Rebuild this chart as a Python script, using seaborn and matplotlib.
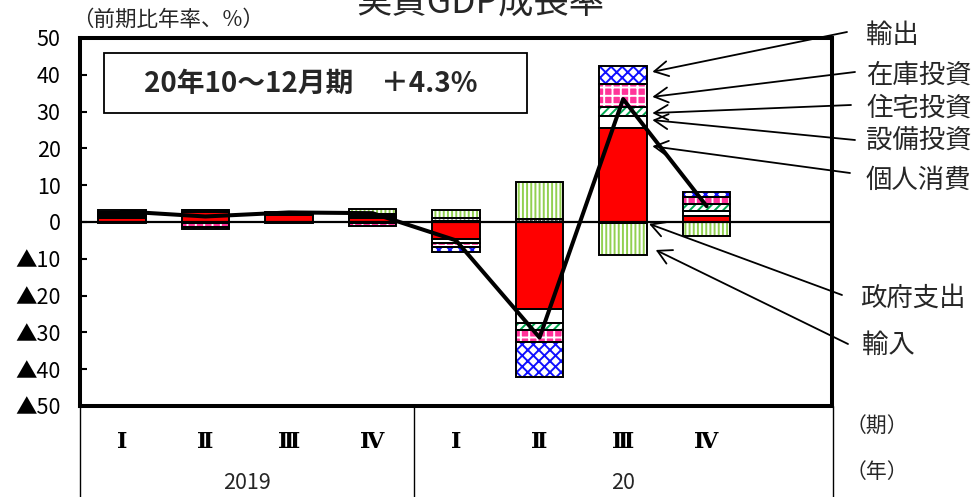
import numpy as np
import pandas as pd
import matplotlib
matplotlib.use("Agg")
import matplotlib.pyplot as plt
import seaborn as sns
from matplotlib.patches import Rectangle
from matplotlib.lines import Line2D

# ---- data: contributions to annualised q/q real GDP growth (% points) ----
years = ["2019", "20"]
quarters = ["Ⅰ", "Ⅱ", "Ⅲ", "Ⅳ", "Ⅰ", "Ⅱ", "Ⅲ", "Ⅳ"]
gdp = [2.9, 1.5, 2.6, 2.4, -5.0, -31.4, 33.4, 4.3]

consumption = [1.1, 2.6, 1.8, 1.2, -4.6, -23.7, 25.6, 1.5]
business_inv = [0.6, -0.1, 0.2, -0.2, -1.0, -3.8, 3.3, 1.6]
housing_inv = [-0.1, -0.1, 0.2, 0.2, 0.2, -1.8, 2.3, 1.8]
inventory_inv = [0.5, -1.1, -0.1, -0.8, -1.2, -3.4, 6.2, 1.8]
exports = [0.5, -0.5, 0.1, 0.2, -1.4, -9.5, 5.1, 1.4]
government = [0.5, 0.6, 0.5, 0.5, 0.8, 0.8, -0.4, -0.1]
imports = [-0.2, 0.1, -0.1, 1.3, 2.2, 10.0, -8.7, -3.7]

component_names = ["個人消費", "設備投資", "住宅投資", "在庫投資", "輸出", "政府支出", "輸入"]
component_values = [consumption, business_inv, housing_inv, inventory_inv,
                    exports, government, imports]
headline = "20年10～12月期　＋4.3%"

# ---- styles: (face colour, hatch colour, hatch) ----
styles = {
    "個人消費": ("#FF0000", "#FF0000", None),
    "設備投資": ("white", "white", None),
    "住宅投資": ("white", "#00A84F", "////"),
    "在庫投資": ("#FF3399", "white", "++"),
    "輸出": ("white", "#1010FF", "xxx"),
    "政府支出": ("white", "#202020", "...."),
    "輸入": ("white", "#92D050", "||||"),
}

sns.set_theme(style="white")
plt.rcParams["font.family"] = ["Noto Sans CJK JP", "DejaVu Sans"]
plt.rcParams["hatch.linewidth"] = 1.4
plt.rcParams["axes.unicode_minus"] = False

W, H = 977, 497
fig = plt.figure(figsize=(W / 100, H / 100), dpi=100)
fig.patch.set_facecolor("white")

def fx(px):
    return px / W

def fy(py):
    return 1 - py / H

ax = fig.add_axes([fx(80), fy(406), fx(832) - fx(80), fy(38) - fy(406)])
ax.set_facecolor("white")

x_pos = np.arange(len(gdp))
bar_w = 0.57

pos_base = np.zeros(len(gdp))
neg_base = np.zeros(len(gdp))
for name, vals in zip(component_names, component_values):
    v = np.asarray(vals, dtype=float)
    bottom = np.where(v >= 0, pos_base, neg_base)
    face, hcol, hatch = styles[name]
    df = pd.DataFrame({"q": x_pos, "value": v})
    # filled / hatched layer
    sns.barplot(data=df, x="q", y="value", native_scale=True, orient="x",
                width=bar_w, errorbar=None, bottom=bottom, color="white",
                saturation=1, facecolor=face, edgecolor=hcol, hatch=hatch,
                linewidth=0, ax=ax, zorder=2)
    # black outline of each segment
    sns.barplot(data=df, x="q", y="value", native_scale=True, orient="x",
                width=bar_w, errorbar=None, bottom=bottom, color="white",
                saturation=1, facecolor="none", edgecolor="black",
                linewidth=1.4, ax=ax, zorder=3)
    pos_base += np.clip(v, 0, None)
    neg_base += np.clip(v, None, 0)

ax.axhline(0, color="black", lw=1.6, zorder=4)

sns.lineplot(x=x_pos, y=gdp, color="black", lw=2.9, ax=ax, zorder=6)

ax.set_xlim(-0.5, 8.5)
ax.set_ylim(-50, 50)
ax.set_xlabel("")
ax.set_ylabel("")

yt = np.arange(-50, 51, 10)
ax.set_yticks(yt)
ax.set_yticklabels([f"▲{abs(t)}" if t < 0 else f"{t}" for t in yt])
ax.tick_params(axis="y", direction="in", length=5, width=1.5, pad=14,
               labelsize=15.5, colors="black", left=True)
ax.set_xticks(x_pos)
ax.set_xticklabels(quarters, fontfamily=["DejaVu Serif", "Noto Sans CJK JP"],
                   fontweight="bold")
ax.tick_params(axis="x", length=0, pad=18, labelsize=16, colors="black")

for s in ax.spines.values():
    s.set_visible(True)
    s.set_color("black")
    s.set_linewidth(2.9)

# period / year table under the axis
for px in (80, 414, 833):
    fig.add_artist(Line2D([fx(px), fx(px)], [0, fy(406)], color="black", lw=1.0))
fig.text(fx(247), fy(483), years[0], ha="center", va="center", fontsize=15.5)
fig.text(fx(623), fy(483), years[1], ha="center", va="center", fontsize=15.5)
fig.text(fx(846), fy(427), "（期）", ha="left", va="center", fontsize=15)
fig.text(fx(846), fy(472), "（年）", ha="left", va="center", fontsize=15)

# titles
fig.text(fx(480), fy(12), "実質GDP成長率", ha="center", va="baseline", fontsize=25.5)
fig.text(fx(72), fy(20), "（前期比年率、%）", ha="left", va="center", fontsize=15.5)

# headline box
fig.add_artist(Rectangle((fx(104), fy(113)), fx(527) - fx(104), fy(53) - fy(113),
                         transform=fig.transFigure, facecolor="white",
                         edgecolor="black", lw=1.3, zorder=7))
fig.text(fx(311), fy(84), headline, ha="center", va="center", fontsize=20,
         fontweight="bold", zorder=8)

# component labels with arrows
arrow_specs = [
    ("輸出", (6.35, 40.8), (847, 32), (866, 35)),
    ("在庫投資", (6.35, 34.0), (855, 72), (866, 75)),
    ("住宅投資", (6.35, 29.6), (851, 105), (866, 108)),
    ("設備投資", (6.35, 27.7), (855, 140), (866, 140)),
    ("個人消費", (6.35, 20.6), (850, 173), (866, 180)),
    ("政府支出", (6.31, -0.5), (842, 295), (860, 298)),
    ("輸入", (6.39, -7.6), (848, 344), (862, 345)),
]
for label, tip, tail, txt in arrow_specs:
    ax.annotate("", xy=tip, xycoords="data",
                xytext=(tail[0], H - tail[1]), textcoords="figure pixels",
                arrowprops=dict(arrowstyle="->,head_length=0.55,head_width=0.3",
                                lw=1.3, color="black", shrinkA=0, shrinkB=0,
                                mutation_scale=18),
                annotation_clip=False, zorder=9)
    fig.text(fx(txt[0]), fy(txt[1]), label, ha="left", va="center", fontsize=19)

fig.savefig("out.png", dpi=100, facecolor="white")
